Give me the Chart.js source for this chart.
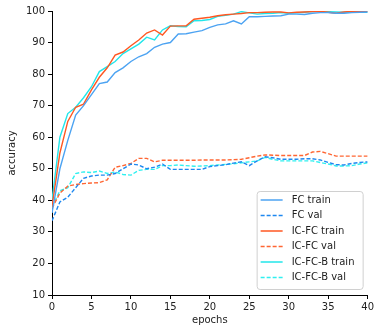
<!DOCTYPE html>
<html>
<head>
<meta charset="utf-8">
<script src="https://cdn.jsdelivr.net/npm/chart.js@4"></script>
<style>
  body { margin: 0; background: #fff; }
  #wrap { width: 376px; height: 331px; }
</style>
</head>
<body>
<div id="wrap"><canvas id="acc" width="376" height="331"></canvas></div>
<script>
// epochs on the x axis
const epochs = [];
for (let i = 0; i <= 40; i++) epochs.push(i);

const yTicks = [10, 20, 30, 40, 50, 60, 70, 80, 90, 100];
const xTicks = [0, 5, 10, 15, 20, 25, 30, 35, 40];

// accuracy per epoch
const fcTrain = [36, 50, 59, 67, 70, 73.5, 77, 77.5, 80.5, 82, 84, 85.5, 86.5, 88.5, 89.5, 90, 92.7, 92.8, 93.3, 93.8,
  94.8, 95.6, 95.9, 96.9, 95.9, 98.2, 98.2, 98.3, 98.4, 98.5, 99, 99, 98.9, 99.3, 99.5, 99.5, 99.3, 99.3, 99.5, 99.6, 99.7];
const fcVal = [33.5, 39.5, 41, 44, 47, 47.7, 48, 48, 48.5, 50, 51.5, 51.2, 50, 50.5, 51.5, 49.8, 49.8, 49.8, 49.8, 49.8,
  50.7, 51, 51.3, 51.8, 52.2, 51, 52.5, 53.8, 53.5, 53, 53, 53, 53.2, 53.2, 52.8, 52, 51.3, 51.2, 51.7, 52, 52.2];
const icfcTrain = [38, 55, 65, 69.5, 70.5, 75, 79, 82, 86, 87, 89, 90.8, 93, 94, 92.4, 95.2, 95.3, 95.3, 97.4, 97.7,
  98, 98.5, 98.8, 99, 99.2, 99.5, 99.5, 99.6, 99.7, 99.7, 99.4, 99.6, 99.7, 99.8, 99.9, 99.6, 99.3, 99.7, 99.9, 99.9, 99.9];
const icfcVal = [37.5, 42.3, 44.5, 45, 45.3, 45.5, 45.6, 46.5, 50.5, 51, 51.7, 53.3, 53.3, 52.2, 52.7, 52.7, 52.7, 52.7, 52.7, 52.8,
  52.8, 52.8, 52.8, 52.9, 53, 53.5, 54, 54.4, 54.3, 54.2, 54.2, 54.2, 54.2, 55.3, 55.5, 54.8, 54, 54, 54, 54, 54];
const icfcbTrain = [40, 60, 67.5, 69.5, 72.5, 76, 80.8, 82.4, 84, 86.5, 88, 89.5, 91.7, 90.8, 94, 95.3, 95.1, 95, 96.9, 97,
  97.3, 98.3, 98.6, 99, 99.8, 99.4, 99, 99.2, 99.3, 99.5, 99.3, 99.4, 99.6, 99.8, 100, 99.8, 99.7, 99.6, 99.7, 99.6, 99.6];
const icfcbVal = [38, 43, 44, 48.5, 49, 48.8, 49.3, 48.5, 49, 48.2, 48, 49.5, 49.8, 49.8, 51, 51, 51.2, 51, 50.8, 50.9,
  51, 51.2, 51.4, 51.6, 51.9, 52.2, 52.5, 53.6, 53, 52.5, 52.5, 52.5, 52.5, 52.5, 52, 51.5, 50.9, 50.9, 51, 51.5, 51.9];

function pts(arr){
  return epochs.map((e, i) => ({x: e, y: arr[i]}));
}

function line(label, arr, color, dashed){
  return {
    label: label,
    data: pts(arr),
    borderColor: color,
    backgroundColor: color,
    borderWidth: 1.4,
    borderDash: dashed ? [4, 2] : [],
    pointRadius: 0,
    tension: 0,
    fill: false
  };
}

// legend drawn inside the plot, lower right, like matplotlib
const boxLegend = {
  id: "boxLegend",
  afterDraw(chart){
    const ctx = chart.ctx;
    const area = chart.chartArea;
    const sets = chart.data.datasets;
    const w = 106, rowH = 15.5;
    const h = sets.length * rowH + 5;
    const x0 = area.right - w - 5, y0 = area.bottom - h - 6;
    ctx.save();
    ctx.fillStyle = "rgba(255,255,255,0.85)";
    ctx.strokeStyle = "#d0d0d0";
    ctx.lineWidth = 1;
    ctx.beginPath();
    ctx.roundRect(x0 + 0.5, y0 + 0.5, w, h, 3);
    ctx.fill();
    ctx.stroke();
    ctx.font = "10px 'DejaVu Sans'";
    ctx.textBaseline = "middle";
    sets.forEach((d, i) => {
      const cy = y0 + 9 + i * rowH;
      ctx.strokeStyle = d.borderColor;
      ctx.lineWidth = 1.5;
      ctx.setLineDash(d.borderDash);
      ctx.beginPath();
      ctx.moveTo(x0 + 4, cy);
      ctx.lineTo(x0 + 26, cy);
      ctx.stroke();
      ctx.setLineDash([]);
      ctx.fillStyle = "#222";
      ctx.fillText(d.label, x0 + 35, cy);
    });
    ctx.restore();
  }
};

const ctx = document.getElementById("acc");
const chart = new Chart(ctx, {
  type: "line",
  data: {
    datasets: [
      line("FC train", fcTrain, "#4ca3f2", false),
      line("FC val", fcVal, "#1e88f0", true),
      line("IC-FC train", icfcTrain, "#ff5722", false),
      line("IC-FC val", icfcVal, "#ff6633", true),
      line("IC-FC-B train", icfcbTrain, "#22e6ea", false),
      line("IC-FC-B val", icfcbVal, "#2ff0f0", true)
    ]
  },
  options: {
    responsive: false,
    animation: false,
    layout: { padding: { top: 11, right: 5, left: 6, bottom: 5 } },
    plugins: {
      legend: { display: false },
      tooltip: { enabled: false }
    },
    scales: {
      x: {
        type: "linear",
        min: 0,
        max: 40,
        afterBuildTicks: s => { s.ticks = xTicks.map(v => ({value: v})); },
        afterFit: s => { s.height = 31; },
        border: { display: true, color: "#000", width: 1 },
        grid: { drawOnChartArea: false, drawTicks: true, tickLength: 4, color: "#000" },
        ticks: { color: "#222", font: { family: "DejaVu Sans", size: 10 }, padding: 2, maxRotation: 0 },
        title: { display: true, text: "epochs", color: "#222", font: { family: "DejaVu Sans", size: 10 }, padding: { top: 2, bottom: 0 } }
      },
      y: {
        min: 10,
        max: 100,
        afterBuildTicks: s => { s.ticks = yTicks.map(v => ({value: v})); },
        afterFit: s => { s.width = 46; },
        border: { display: true, color: "#000", width: 1 },
        grid: { drawOnChartArea: false, drawTicks: true, tickLength: 4, color: "#000" },
        ticks: { color: "#222", font: { family: "DejaVu Sans", size: 10 }, padding: 3 },
        title: { display: true, text: "accuracy", color: "#222", font: { family: "DejaVu Sans", size: 10 }, padding: { top: 0, bottom: 4 } }
      }
    }
  },
  plugins: [boxLegend]
});
</script>
</body>
</html>
